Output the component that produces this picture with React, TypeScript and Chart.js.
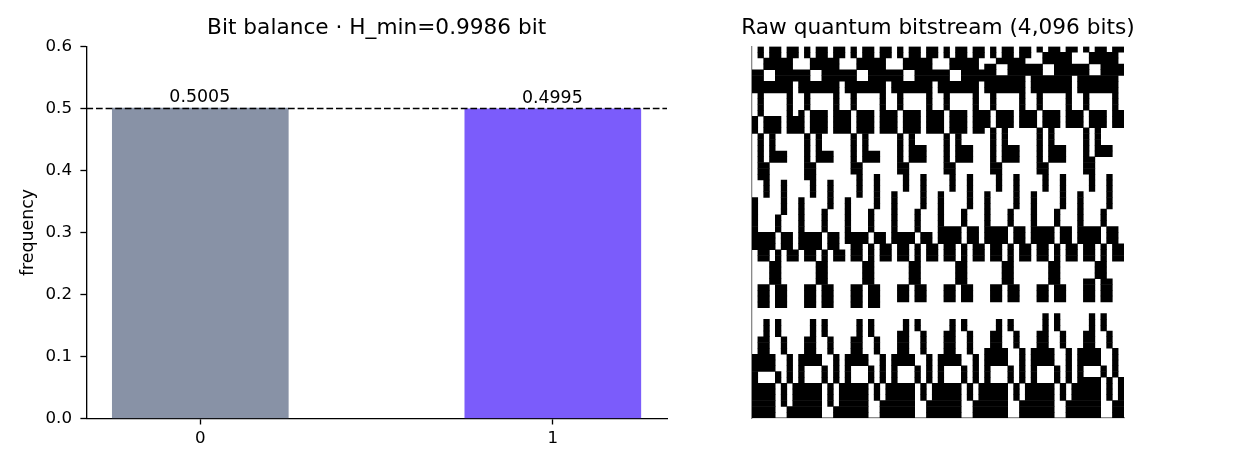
// Bit balance bars and raw bitstream raster, both drawn with Chart.js
import { useEffect, useRef } from 'react'
import { Chart, registerables, ChartConfiguration, Plugin } from 'chart.js'

Chart.register(...registerables)

const FONT_FAMILY = '"DejaVu Sans", sans-serif'

const BIT_LABELS = ['0', '1']
const BIT_POSITIONS = [0, 1]
const BIT_FREQUENCIES = [0.5005, 0.4995]
const BAR_COLORS = ['#8892a6', '#7b5cfb']
const IDEAL_FREQUENCY = 0.5
const X_RANGE = [-0.3231, 1.3239]
const Y_TICKS = [0, 0.1, 0.2, 0.3, 0.4, 0.5, 0.6]

const BALANCE_TITLE = 'Bit balance · H_min=0.9986 bit'
const STREAM_TITLE = 'Raw quantum bitstream (4,096 bits)'

// 64 rows of 64 bits, grouped by byte
const BIT_ROWS = [
  '01011011 01011011 01011011 01011011 01011011 01011011 01011011 01011011',
  '01011011 01011011 01011011 01011011 01011011 01011011 00111110 00111110',
  '00111110 00111110 00111110 00111110 00111110 00111110 00111110 00111110',
  '00111110 00111110 00111110 00111110 00111110 11001111 11001111 11001111',
  '11001111 11001111 11001111 11001111 11001111 11001111 11001111 11001111',
  '11001111 11001111 11001111 11001111 11001111 11111110 11111110 11111110',
  '11111110 11111110 11111110 11111110 11111110 11111110 11111110 11111110',
  '11111110 11111110 11111110 11111110 11111110 11111110 11111110 11111110',
  '01000010 01000010 01000010 01000010 01000010 01000010 01000010 01000010',
  '01000010 01000010 01000010 01000010 01000010 01000010 01000010 01000010',
  '01000010 01000010 01000010 01000010 01000010 01000010 01000010 01000010',
  '01000010 10111011 10111011 10111011 10111011 10111011 10111011 10111011',
  '10111011 10111011 10111011 10111011 10111011 10111011 10111011 10111011',
  '10111011 10111011 10111011 10111011 10111011 10111011 10111011 10111011',
  '10111011 10111011 10111011 10111011 10111011 01010000 01010000 01010000',
  '01010000 01010000 01010000 01010000 01010000 01010000 01010000 01010000',
  '01010000 01010000 01010000 01010000 01010000 01010000 01010000 01010000',
  '01010000 01010000 01010000 01011100 01011100 01011100 01011100 01011100',
  '01011100 01011100 01011100 01011100 01011100 01011100 01011100 01011100',
  '01011100 01011100 01011100 01011100 01011100 01011100 01011100 01100000',
  '01100000 01100000 01100000 01100000 01100000 01100000 01100000 01100000',
  '01100000 01100000 01100000 01100000 01100000 01100000 01100000 01100000',
  '01100000 01100000 00100100 00100100 00100100 00100100 00100100 00100100',
  '00100100 00100100 00100100 00100100 00100100 00100100 00100100 00100100',
  '00100100 00100100 00100100 00100100 00100100 00100100 00100100 00100100',
  '00100100 00100100 00100100 10000100 10000100 10000100 10000100 10000100',
  '10000100 10000100 10000100 10000100 10000100 10000100 10000100 10000100',
  '10000100 10000100 10000100 10000100 10000100 10000100 10000100 10000100',
  '10000100 10001000 10001000 10001000 10001000 10001000 10001000 10001000',
  '10001000 10001000 10001000 10001000 10001000 10001000 10001000 10001000',
  '10001000 10001000 10001000 10001000 10001000 10001000 10001000 10001000',
  '10001000 10001000 10001000 10001000 11110110 11110110 11110110 11110110',
  '11110110 11110110 11110110 11110110 11110110 11110110 11110110 11110110',
  '11110110 11110110 11110110 11110110 11110110 11110110 11110110 11110110',
  '11110110 11110110 01101011 01101011 01101011 01101011 01101011 01101011',
  '01101011 01101011 01101011 01101011 01101011 01101011 01101011 01101011',
  '01101011 01101011 01101011 01101011 01101011 01101011 01101011 01101011',
  '00011000 00011000 00011000 00011000 00011000 00011000 00011000 00011000',
  '00011000 00011000 00011000 00011000 00011000 00011000 00011000 00011000',
  '00011000 00011000 00011000 00011000 00011000 00011000 00011000 00011000',
  '00011000 00011000 00011000 00011000 00011000 00011000 00011000 01101100',
  '01101100 01101100 01101100 01101100 01101100 01101100 01101100 01101100',
  '01101100 01101100 01101100 01101100 01101100 01101100 01101100 01101100',
  '01101100 01101100 01101100 01101100 01101100 01101100 01101100 01101100',
  '01101100 01101100 01101100 00000000 00000000 00000000 00000000 00000000',
  '00000000 00000000 00000000 00000000 00000000 00000000 00000000 00000000',
  '00000000 00000000 00000000 00000000 00000000 00000000 00101000 00101000',
  '00101000 00101000 00101000 00101000 00101000 00101000 00101000 00101000',
  '00101000 00101000 00101000 00101000 00101000 00101000 00101000 00101000',
  '00101000 00101000 00101000 01100100 01100100 01100100 01100100 01100100',
  '01100100 01100100 01100100 01100100 01100100 01100100 01100100 01100100',
  '01100100 01100100 01100100 01100100 01100100 01100100 01100100 01100100',
  '01100100 01100100 01100100 01100100 01100100 11110010 11110010 11110010',
  '11110010 11110010 11110010 11110010 11110010 11110010 11110010 11110010',
  '11110010 11110010 11110010 11110010 11110010 11110010 11110010 11110010',
  '11110010 10001010 10001010 10001010 10001010 10001010 10001010 10001010',
  '10001010 10001010 10001010 10001010 10001010 10001010 10001010 10001010',
  '10001010 10001010 10001010 10001010 10001010 10001010 10001010 11110101',
  '11110101 11110101 11110101 11110101 11110101 11110101 11110101 11110101',
  '11110101 11110101 11110101 11110101 11110101 11110101 11110101 11110101',
  '11110101 11110101 11110101 11110101 11110101 11110101 11110101 11110101',
  '11110101 11110101 11110011 11110011 11110011 11110011 11110011 11110011',
  '11110011 11110011 11110011 11110011 11110011 11110011 11110011 11110011',
  '11110011 11110011 11110011 11110011 11110011 11110011 11110011 11110011'
]

// Merge each row's set bits into floating horizontal bars
const toRuns = (rows: string[]) => {
  const runs: { x: [number, number]; y: number }[] = []
  rows.forEach((row, rowIndex) => {
    const bits = row.replace(/ /g, '')
    let start = -1
    for (let i = 0; i <= bits.length; i++) {
      if (bits[i] === '1') {
        if (start < 0) start = i
      } else if (start >= 0) {
        runs.push({ x: [start, i], y: rowIndex + 0.5 })
        start = -1
      }
    }
  })
  return runs
}

// Value text above each bar
const barValueLabels: Plugin = {
  id: 'barValueLabels',
  afterDatasetsDraw(chart) {
    const { ctx } = chart
    const meta = chart.getDatasetMeta(0)
    ctx.save()
    ctx.fillStyle = '#000'
    ctx.font = `17.4px ${FONT_FAMILY}`
    ctx.textAlign = 'center'
    ctx.textBaseline = 'alphabetic'
    meta.data.forEach((bar, i) => {
      ctx.fillText(BIT_FREQUENCIES[i].toFixed(4), bar.x - 0.5, bar.y - 6)
    })
    ctx.restore()
  }
}

// The stream title is wider than its square, so let it span the whole canvas
const wideTitle: Plugin = {
  id: 'wideTitle',
  afterLayout(chart) {
    const block = (chart as any).titleBlock
    block.left = 0
    block.right = chart.width
  }
}

const titleOptions = (text: string) => ({
  display: true,
  text,
  color: '#000',
  fullSize: false,
  font: { family: FONT_FAMILY, size: 21.67, weight: 'normal' as const, lineHeight: 1.2 },
  padding: { top: 15, bottom: 5.5 }
})

const balanceConfig = (): ChartConfiguration => ({
  type: 'bar',
  data: {
    datasets: [
      {
        type: 'bar',
        data: BIT_POSITIONS.map((x, i) => ({ x, y: BIT_FREQUENCIES[i] })),
        backgroundColor: BAR_COLORS,
        barThickness: 176,
        order: 2
      },
      {
        type: 'line',
        data: X_RANGE.map(x => ({ x, y: IDEAL_FREQUENCY })),
        borderColor: '#000',
        borderWidth: 1.67,
        borderDash: [6.7, 2.9],
        pointRadius: 0,
        order: 1
      }
    ] as any
  },
  options: {
    responsive: false,
    animation: false,
    devicePixelRatio: 1,
    layout: { padding: { left: 0, right: 33, top: 0, bottom: 0 } },
    plugins: {
      legend: { display: false },
      tooltip: { enabled: false },
      title: titleOptions(BALANCE_TITLE)
    },
    scales: {
      x: {
        type: 'linear',
        offset: false,
        min: X_RANGE[0],
        max: X_RANGE[1],
        afterBuildTicks: scale => {
          scale.ticks = BIT_POSITIONS.map(value => ({ value }))
        },
        afterFit: scale => {
          scale.height = 49.5
        },
        grid: { offset: false, drawOnChartArea: false, drawTicks: true, tickLength: 6, tickColor: '#000', tickWidth: 1.33 },
        border: { display: true, color: '#000', width: 1.33 },
        ticks: {
          color: '#000',
          padding: 4.5,
          maxRotation: 0,
          font: { family: FONT_FAMILY, size: 16.67 },
          callback: value => BIT_LABELS[Number(value)]
        }
      },
      y: {
        type: 'linear',
        min: 0,
        max: 0.6,
        afterBuildTicks: scale => {
          scale.ticks = Y_TICKS.map(value => ({ value }))
        },
        afterFit: scale => {
          scale.width = 86.4
        },
        grid: { drawOnChartArea: false, drawTicks: true, tickLength: 6, tickColor: '#000', tickWidth: 1.33 },
        border: { display: true, color: '#000', width: 1.33 },
        title: {
          display: true,
          text: 'frequency',
          color: '#000',
          font: { family: FONT_FAMILY, size: 17.4, lineHeight: 1.2 },
          padding: { top: 18, bottom: 0 }
        },
        ticks: {
          color: '#000',
          padding: 8.4,
          font: { family: FONT_FAMILY, size: 16.67 },
          callback: value => Number(value).toFixed(1)
        }
      }
    }
  },
  plugins: [barValueLabels]
})

const streamConfig = (): ChartConfiguration => ({
  type: 'bar',
  data: {
    datasets: [
      {
        data: toRuns(BIT_ROWS) as any,
        backgroundColor: '#000',
        barPercentage: 1,
        categoryPercentage: 1,
        grouped: false,
        inflateAmount: 0.25
      }
    ]
  },
  options: {
    indexAxis: 'y',
    responsive: false,
    animation: false,
    devicePixelRatio: 1,
    layout: { padding: { left: 52, right: 52, top: 0, bottom: 50 } },
    plugins: {
      legend: { display: false },
      tooltip: { enabled: false },
      title: titleOptions(STREAM_TITLE)
    },
    scales: {
      x: {
        type: 'linear',
        min: 0,
        max: 64,
        afterFit: scale => {
          scale.height = 0
        },
        ticks: { display: false },
        grid: { display: false },
        border: { display: true, color: '#8a8a8a', width: 1.33 }
      },
      y: {
        type: 'linear',
        offset: false,
        reverse: true,
        min: 0,
        max: 64,
        afterFit: scale => {
          scale.width = 0
        },
        ticks: { display: false },
        grid: { display: false, offset: false },
        border: { display: true, color: '#8a8a8a', width: 1.33 }
      }
    }
  },
  plugins: [wideTitle]
})

const ChartCanvas = ({ left, width, config }: { left: number; width: number; config: () => ChartConfiguration }) => {
  const canvasRef = useRef<HTMLCanvasElement>(null)

  useEffect(() => {
    if (!canvasRef.current) return
    const chart = new Chart(canvasRef.current, config())
    return () => chart.destroy()
  }, [config])

  return (
    <canvas
      ref={canvasRef}
      width={width}
      height={468}
      style={{ position: 'absolute', left, top: 0, width, height: 468, display: 'block' }}
    />
  )
}

const App = () => (
  <div style={{ position: 'absolute', left: 0, top: 0, width: 1248, height: 468, background: '#fff', overflow: 'hidden' }}>
    <ChartCanvas left={0} width={700} config={balanceConfig} />
    <ChartCanvas left={700} width={476} config={streamConfig} />
  </div>
)

export default App
